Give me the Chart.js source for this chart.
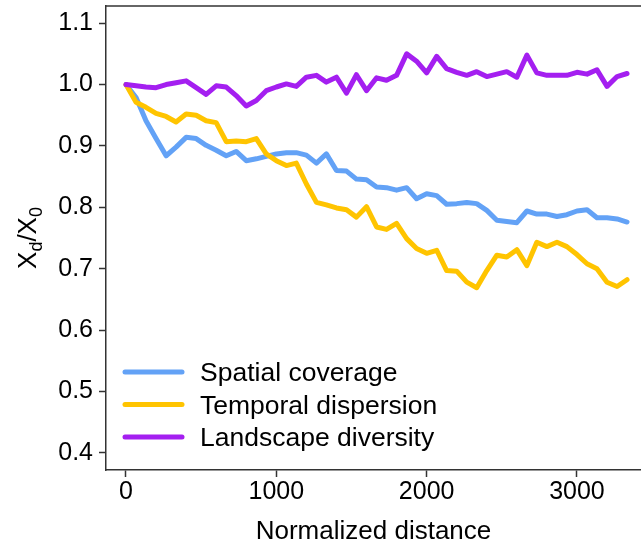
<!DOCTYPE html>
<html>
<head>
<meta charset="utf-8">
<script src="https://cdn.jsdelivr.net/npm/chart.js@4.4.0/dist/chart.umd.min.js"></script>
<style>
  body { margin: 0; background: #fff; }
  canvas { display: block; }
</style>
</head>
<body>
<canvas id="chart" width="641" height="545"></canvas>
<script>
// values
const distance = [0, 67, 133, 200, 267, 333, 400, 467, 533, 600,
  667, 733, 800, 867, 933, 1000, 1067, 1133, 1200, 1267,
  1333, 1400, 1467, 1533, 1600, 1667, 1733, 1800, 1867, 1933,
  2000, 2067, 2133, 2200, 2267, 2333, 2400, 2467, 2533, 2600,
  2667, 2733, 2800, 2867, 2933, 3000, 3067, 3133, 3200, 3267, 3333];

const spatialCoverage = [1.0, 0.979, 0.941, 0.912, 0.884, 0.898, 0.914, 0.912, 0.901, 0.893,
  0.884, 0.891, 0.876, 0.879, 0.883, 0.887, 0.889, 0.889, 0.885, 0.872,
  0.887, 0.860, 0.859, 0.846, 0.845, 0.833, 0.832, 0.828, 0.832, 0.814,
  0.822, 0.819, 0.805, 0.806, 0.808, 0.806, 0.795, 0.779, 0.777, 0.775,
  0.794, 0.789, 0.789, 0.785, 0.788, 0.794, 0.796, 0.783, 0.783, 0.781, 0.776];

const temporalDispersion = [1.0, 0.971, 0.963, 0.953, 0.948, 0.939, 0.952, 0.950, 0.941, 0.938,
  0.907, 0.908, 0.907, 0.912, 0.887, 0.876, 0.868, 0.872, 0.838, 0.808,
  0.804, 0.799, 0.796, 0.784, 0.801, 0.768, 0.764, 0.774, 0.749, 0.733,
  0.725, 0.730, 0.697, 0.696, 0.678, 0.669, 0.697, 0.722, 0.719, 0.731,
  0.705, 0.743, 0.736, 0.743, 0.736, 0.723, 0.708, 0.700, 0.678, 0.671, 0.682];

const landscapeDiversity = [1.0, 0.998, 0.996, 0.995, 1.0, 1.003, 1.006, 0.995, 0.984, 0.998,
  0.996, 0.982, 0.965, 0.974, 0.990, 0.996, 1.001, 0.997, 1.012, 1.015,
  1.004, 1.012, 0.986, 1.016, 0.990, 1.011, 1.007, 1.015, 1.050, 1.038,
  1.019, 1.046, 1.026, 1.020, 1.015, 1.021, 1.013, 1.017, 1.021, 1.012,
  1.048, 1.019, 1.015, 1.015, 1.015, 1.020, 1.017, 1.024, 0.997, 1.013, 1.018];

const seriesNames = ['Spatial coverage', 'Temporal dispersion', 'Landscape diversity'];
const seriesColors = ['#63a2f6', '#ffc400', '#a41ff0'];
const xTicks = [0, 1000, 2000, 3000];
const yTicks = [0.4, 0.5, 0.6, 0.7, 0.8, 0.9, 1.0, 1.1];

const FONT = 'Liberation Sans, Arial, Helvetica, sans-serif';

function points(values) {
  return distance.map((d, i) => ({ x: d, y: values[i] }));
}

function makeSet(idx, values) {
  return {
    label: seriesNames[idx],
    data: points(values),
    borderColor: seriesColors[idx],
    backgroundColor: seriesColors[idx],
    borderWidth: 5,
    borderCapStyle: 'round',
    borderJoinStyle: 'round',
    pointRadius: 0,
    tension: 0,
    fill: false,
    order: 3 - idx
  };
}

// top line of the R box (right side is off the page)
const frameTop = {
  id: 'frameTop',
  afterDraw(chart) {
    const a = chart.chartArea, ctx = chart.ctx;
    ctx.save();
    ctx.strokeStyle = '#333';
    ctx.lineWidth = 1.5;
    ctx.beginPath();
    ctx.moveTo(a.left, a.top);
    ctx.lineTo(a.right, a.top);
    ctx.stroke();
    ctx.restore();
  }
};

// legend sitting inside the plot, bottom left
const insetLegend = {
  id: 'insetLegend',
  afterDraw(chart) {
    const a = chart.chartArea, ctx = chart.ctx;
    ctx.save();
    chart.data.datasets.forEach((ds, i) => {
      const y = 372 + i * 32.5;
      ctx.strokeStyle = ds.borderColor;
      ctx.lineWidth = 5;
      ctx.lineCap = 'round';
      ctx.beginPath();
      ctx.moveTo(a.left + 19, y);
      ctx.lineTo(a.left + 76, y);
      ctx.stroke();
      ctx.fillStyle = '#000';
      ctx.font = '26.5px ' + FONT;
      ctx.textBaseline = 'middle';
      ctx.textAlign = 'left';
      ctx.fillText(ds.label, a.left + 94, y + 2);
    });
    ctx.restore();
  }
};

// y axis title X_d / X_0 with subscripts
const yTitle = {
  id: 'yTitle',
  afterDraw(chart) {
    const ctx = chart.ctx;
    const parts = [['X', 26, 0], ['d', 18, 6], ['/', 26, 0], ['X', 26, 0], ['0', 18, 6]];
    ctx.save();
    ctx.translate(36, 238);
    ctx.rotate(-Math.PI / 2);
    ctx.fillStyle = '#000';
    ctx.textBaseline = 'alphabetic';
    ctx.textAlign = 'left';
    let total = 0;
    parts.forEach(p => { ctx.font = p[1] + 'px ' + FONT; total += ctx.measureText(p[0]).width; });
    let x = -total / 2;
    parts.forEach(p => {
      ctx.font = p[1] + 'px ' + FONT;
      ctx.fillText(p[0], x, p[2]);
      x += ctx.measureText(p[0]).width;
    });
    ctx.restore();
  }
};

new Chart(document.getElementById('chart').getContext('2d'), {
  type: 'line',
  data: {
    datasets: [
      makeSet(0, spatialCoverage),
      makeSet(1, temporalDispersion),
      makeSet(2, landscapeDiversity)
    ]
  },
  options: {
    responsive: false,
    animation: false,
    devicePixelRatio: 1,
    layout: { padding: { top: 6, right: 0, left: 0, bottom: 0 } },
    plugins: {
      legend: { display: false },
      tooltip: { enabled: false }
    },
    scales: {
      x: {
        type: 'linear',
        min: -133,
        max: 3426,
        afterBuildTicks: s => { s.ticks = xTicks.map(v => ({ value: v })); },
        afterFit: s => { s.height = 75; s.paddingLeft = 0; s.paddingRight = 0; },
        ticks: {
          autoSkip: false,
          maxRotation: 0,
          padding: 0,
          color: '#000',
          font: { family: FONT, size: 25 },
          callback: v => String(v)
        },
        grid: {
          drawOnChartArea: false,
          drawTicks: true,
          tickLength: 7,
          tickColor: '#333',
          tickWidth: 1.5
        },
        border: { display: true, color: '#333', width: 1.5 },
        title: {
          display: true,
          text: 'Normalized distance',
          color: '#000',
          font: { family: FONT, size: 26, lineHeight: 1.0 },
          padding: { top: 0, bottom: 0 }
        }
      },
      y: {
        type: 'linear',
        min: 0.372,
        max: 1.128,
        afterBuildTicks: s => { s.ticks = yTicks.map(v => ({ value: v })); },
        afterFit: s => { s.width = 106; s.paddingTop = 0; s.paddingBottom = 0; },
        ticks: {
          autoSkip: false,
          padding: 6,
          color: '#000',
          font: { family: FONT, size: 25 },
          callback: v => v.toFixed(1)
        },
        grid: {
          drawOnChartArea: false,
          drawTicks: true,
          tickLength: 7,
          tickColor: '#333',
          tickWidth: 1.5
        },
        border: { display: true, color: '#333', width: 1.5 }
      }
    }
  },
  plugins: [frameTop, insetLegend, yTitle]
});
</script>
</body>
</html>
